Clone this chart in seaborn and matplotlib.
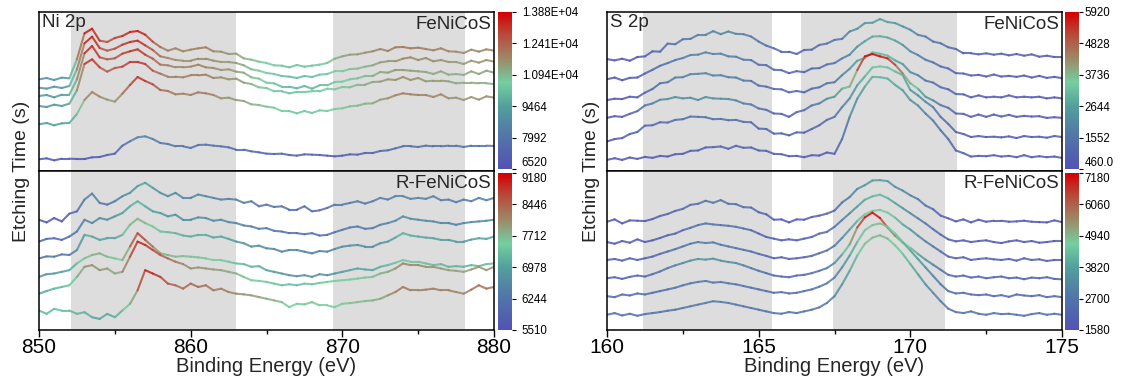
import numpy as np
import pandas as pd
import matplotlib
matplotlib.use("Agg")
import matplotlib.pyplot as plt
import seaborn as sns
from matplotlib.colors import LinearSegmentedColormap, Normalize
from matplotlib.cm import ScalarMappable
from matplotlib.ticker import MultipleLocator

# ---------------- data ----------------
ni_energy = np.arange(850.0, 880.001, 0.5)      # eV, 61 points
s_energy = np.arange(160.0, 175.001, 0.25)      # eV, 61 points

# Ni 2p, FeNiCoS (relative intensity of each trace above its own start, a.u.) top -> bottom
ni_fenicos_1 = [0, 4, -2, 5, 3, 60, 138, 152, 116, 112,
                124, 130, 142, 145, 134, 113, 97, 86, 93, 84,
                89, 93, 96, 84, 83, 76, 77, 63, 59, 53,
                49, 42, 41, 36, 43, 38, 41, 44, 49, 62,
                69, 74, 75, 80, 84, 91, 85, 96, 97, 93,
                95, 91, 87, 93, 84, 83, 79, 89, 83, 90,
                86]
ni_fenicos_2 = [0, -3, 3, -1, 5, 55, 133, 153, 119, 111,
                117, 129, 137, 141, 127, 113, 94, 89, 83, 81,
                81, 87, 87, 81, 77, 77, 74, 67, 55, 51,
                44, 41, 35, 33, 29, 35, 32, 39, 41, 49,
                49, 56, 57, 63, 67, 76, 79, 79, 87, 91,
                83, 89, 79, 83, 77, 77, 71, 81, 75, 83,
                78]
ni_fenicos_3 = [0, 3, -4, 4, 4, 50, 128, 150, 116, 110,
                113, 127, 134, 140, 124, 112, 94, 92, 86, 86,
                88, 94, 86, 84, 78, 80, 73, 70, 56, 52,
                40, 38, 28, 28, 23, 30, 22, 32, 32, 42,
                43, 50, 53, 60, 60, 72, 70, 78, 78, 76,
                74, 72, 66, 74, 64, 66, 63, 74, 66, 76,
                70]
ni_fenicos_4 = [0, -3, 4, 0, 7, 47, 126, 140, 116, 103,
                114, 118, 132, 132, 126, 106, 97, 88, 88, 86,
                92, 92, 94, 84, 86, 80, 82, 70, 66, 56,
                54, 44, 44, 38, 42, 42, 44, 44, 52, 50,
                57, 56, 64, 64, 72, 73, 80, 78, 87, 78,
                84, 74, 76, 76, 74, 68, 70, 70, 68, 68,
                66]
ni_fenicos_5 = [0, 4, -3, 3, 4, 31, 73, 97, 83, 74,
                68, 92, 118, 142, 130, 120, 103, 100, 90, 92,
                88, 96, 93, 88, 78, 80, 73, 70, 60, 58,
                53, 50, 40, 40, 33, 40, 34, 42, 40, 46,
                48, 54, 56, 62, 63, 74, 78, 87, 93, 90,
                88, 88, 82, 90, 78, 80, 73, 82, 74, 84,
                80]
ni_fenicos_6 = [0, 3, -3, 2, 2, 1, 1, 6, 7, 13,
                17, 41, 54, 66, 69, 61, 49, 46, 39, 39,
                34, 43, 44, 41, 39, 36, 29, 29, 24, 21,
                17, 16, 17, 13, 11, 15, 14, 13, 11, 9,
                11, 15, 14, 19, 19, 25, 27, 33, 39, 39,
                37, 41, 39, 39, 41, 41, 37, 41, 41, 41,
                40]
ni_fenicos_levels = [275, 250, 225, 195, 140, 35]
ni_fenicos_counts = [(9000, 13800), (9000, 13750), (9050, 13600),
                     (8950, 13400), (9250, 13300), (6550, 8700)]

# Ni 2p, R-FeNiCoS
ni_r_1 = [0, -8, 5, -5, 18, 25, 60, 78, 50, 45,
          55, 70, 80, 100, 110, 95, 80, 70, 80, 65,
          65, 75, 70, 65, 60, 62, 60, 50, 55, 40,
          45, 38, 40, 30, 30, 40, 25, 28, 35, 45,
          45, 50, 55, 48, 55, 65, 60, 70, 70, 62,
          65, 62, 70, 58, 60, 52, 60, 55, 65, 58,
          65]
ni_r_2 = [0, 8, 10, 5, 15, 30, 65, 55, 70, 65,
          75, 85, 105, 120, 105, 90, 85, 75, 80, 65,
          65, 72, 70, 62, 65, 58, 55, 48, 45, 38,
          40, 32, 30, 25, 25, 22, 25, 18, 20, 28,
          35, 42, 45, 38, 40, 50, 55, 62, 75, 68,
          65, 62, 60, 55, 55, 50, 55, 58, 60, 62,
          65]
ni_r_3 = [0, 6, 5, 12, 10, 25, 70, 65, 55, 60,
          60, 70, 100, 118, 105, 95, 80, 78, 75, 68,
          65, 70, 70, 62, 65, 58, 50, 45, 35, 38,
          30, 28, 20, 25, 25, 20, 15, 22, 20, 28,
          35, 38, 40, 35, 35, 45, 50, 62, 75, 68,
          65, 62, 60, 55, 55, 50, 50, 56, 60, 58,
          65]
ni_r_4 = [0, 8, 10, 15, 20, 40, 55, 65, 70, 60,
          55, 50, 90, 130, 110, 90, 70, 65, 60, 62,
          60, 58, 55, 50, 50, 45, 40, 38, 30, 32,
          20, 15, 10, 5, 2, 5, 0, 8, 5, 10,
          15, 20, 25, 22, 20, 30, 35, 42, 50, 45,
          45, 40, 35, 38, 30, 32, 30, 35, 32, 38,
          40]
ni_r_5 = [0, 8, 15, 20, 25, 50, 80, 85, 70, 75,
          60, 65, 110, 155, 145, 130, 115, 105, 95, 88,
          75, 78, 75, 72, 70, 65, 60, 50, 40, 38,
          35, 30, 25, 28, 25, 30, 28, 32, 35, 38,
          40, 42, 45, 48, 50, 60, 65, 75, 90, 85,
          85, 80, 80, 75, 70, 68, 65, 72, 80, 70,
          80]
ni_r_6 = [0, -10, 5, 0, 0, -10, -5, -20, -25, -10,
          -20, 0, 20, 60, 120, 110, 100, 80, 75, 65,
          80, 70, 75, 60, 65, 55, 50, 48, 45, 40,
          35, 30, 25, 10, 20, 18, 25, 15, 15, 10,
          20, 22, 25, 28, 30, 35, 45, 55, 70, 60,
          60, 62, 65, 60, 60, 55, 50, 62, 75, 65,
          70]
ni_r_levels = [328, 263, 213, 158, 108, 58]
ni_r_counts = [(5550, 7100), (5850, 7300), (6150, 7850),
               (6650, 8850), (7000, 9000), (6950, 9050)]

# S 2p, FeNiCoS
s_fenicos_1 = [0, -4, 1, -5, 6, 8, 23, 22, 46, 44,
               59, 60, 72, 72, 83, 74, 82, 75, 74, 67,
               52, 40, 32, 22, 22, 15, 27, 28, 42, 46,
               57, 60, 82, 90, 107, 108, 119, 110, 107, 97,
               87, 72, 67, 52, 47, 35, 30, 17, 17, 14,
               17, 13, 16, 11, 15, 10, 14, 7, 10, 6,
               6]
s_fenicos_2 = [0, 5, -3, 4, 5, 17, 28, 40, 48, 57,
               63, 72, 73, 80, 75, 76, 68, 67, 58, 57,
               43, 42, 28, 27, 18, 24, 21, 32, 33, 44,
               48, 62, 73, 97, 113, 127, 128, 124, 115, 102,
               83, 72, 58, 50, 38, 32, 18, 17, 11, 13,
               8, 14, 8, 10, 7, 11, 5, 10, 4, 7,
               3]
s_fenicos_3 = [0, 4, 3, 10, 8, 22, 33, 50, 53, 67,
               68, 77, 78, 80, 73, 74, 68, 67, 58, 57,
               43, 40, 33, 32, 23, 27, 23, 34, 38, 50,
               53, 74, 93, 117, 125, 142, 138, 132, 118, 107,
               83, 74, 58, 52, 38, 32, 18, 17, 8, 14,
               8, 10, 8, 14, 8, 10, 8, 10, 5, 8,
               5]
s_fenicos_4 = [0, 5, 3, 12, 20, 37, 43, 54, 56, 62,
               58, 60, 53, 62, 58, 57, 56, 52, 43, 40,
               28, 24, 13, 12, 3, 17, 23, 37, 43, 57,
               63, 87, 93, 142, 183, 190, 183, 177, 158, 132,
               103, 87, 63, 52, 38, 30, 13, 12, 3, 10,
               3, 10, 4, 9, 3, 6, 4, 5, 0, 2,
               0]
s_fenicos_5 = [0, 7, 10, 22, 28, 47, 48, 57, 56, 64,
               66, 74, 73, 72, 66, 67, 63, 64, 58, 57,
               38, 37, 23, 24, 18, 27, 26, 37, 48, 64,
               73, 102, 128, 167, 193, 220, 223, 220, 208, 197,
               153, 137, 118, 102, 73, 52, 28, 22, 13, 16,
               13, 14, 12, 15, 10, 16, 13, 14, 11, 16,
               13]
s_fenicos_6 = [0, 5, 0, 7, 3, 9, 6, 12, 10, 17,
               18, 27, 28, 37, 38, 40, 33, 42, 36, 37,
               28, 27, 18, 17, 11, 12, 8, 14, 13, 22,
               18, 62, 128, 182, 218, 247, 246, 242, 223, 207,
               178, 162, 138, 117, 88, 62, 28, 20, 10, 12,
               11, 14, 10, 12, 8, 14, 8, 11, 8, 10,
               6]
s_fenicos_levels = [333, 273, 211, 158, 88, 33]
s_fenicos_counts = [(550, 2700), (550, 2900), (550, 3200),
                    (600, 5900), (600, 3300), (600, 3000)]

# S 2p, R-FeNiCoS
s_r_1 = [0, 7, -5, 4, 3, 2, 8, 17, 23, 32,
         38, 50, 53, 62, 56, 64, 53, 52, 43, 42,
         28, 22, 6, 7, -2, 7, 6, 14, 18, 24,
         33, 57, 73, 97, 108, 122, 123, 120, 103, 92,
         78, 67, 48, 37, 18, 10, 1, 7, -2, 6,
         0, 3, 3, 0, 1, 3, 0, -1, -2, 4,
         -1]
s_r_2 = [0, -5, 3, -2, 8, 0, 5, 12, 20, 25,
         35, 42, 50, 55, 52, 50, 48, 45, 40, 35,
         25, 15, 10, 5, 8, 5, 10, 15, 25, 30,
         45, 65, 85, 105, 125, 135, 140, 130, 115, 100,
         85, 70, 55, 38, 22, 8, 2, 5, 0, 3,
         5, 0, -3, 2, 5, 0, 3, -2, 0, 3,
         3]
s_r_3 = [0, 3, -2, 5, 0, 5, 10, 18, 25, 32,
         40, 48, 53, 50, 52, 45, 40, 35, 30, 25,
         18, 12, 5, 8, 3, 5, 8, 12, 20, 28,
         42, 65, 90, 115, 135, 145, 148, 140, 125, 105,
         90, 72, 55, 40, 25, 10, 5, 8, 0, 3,
         5, 2, 0, 3, -2, 5, 0, 2, -3, 0,
         0]
s_r_4 = [0, 3, -2, 4, 8, 5, 12, 20, 30, 38,
         45, 52, 57, 55, 58, 52, 48, 45, 38, 30,
         22, 15, 8, 5, 3, 8, 10, 15, 22, 30,
         45, 70, 100, 150, 180, 194, 178, 150, 125, 105,
         90, 72, 55, 40, 25, 10, 5, 8, 2, 5,
         0, 3, 5, 0, 2, -3, 2, 0, 3, -2,
         -3]
s_r_5 = [0, -3, 5, 2, 8, 5, 10, 15, 20, 25,
         32, 38, 42, 45, 40, 42, 38, 35, 30, 25,
         20, 15, 10, 12, 8, 10, 15, 20, 28, 38,
         55, 85, 120, 160, 195, 210, 215, 205, 185, 160,
         135, 110, 85, 60, 35, 15, 8, 10, 5, 3,
         5, 0, 3, -2, 5, 2, 0, 3, -3, 0,
         -3]
s_r_6 = [0, 5, -2, 3, -3, 2, 5, 8, 12, 15,
         20, 25, 30, 35, 40, 38, 35, 30, 25, 20,
         15, 10, 5, 3, 8, 5, 10, 15, 22, 35,
         55, 90, 130, 175, 210, 228, 235, 225, 205, 180,
         150, 120, 90, 65, 40, 18, 8, 5, 10, 3,
         0, 5, 2, 3, 0, -3, 2, 5, 0, 3,
         0]
s_r_levels = [320, 260, 207, 153, 100, 45]
s_r_counts = [(1650, 3800), (1700, 4300), (1900, 4800),
              (2000, 7150), (2300, 4900), (2500, 5000)]

# colour-bar scales
ni_fenicos_cbar = [6520, 7992, 9464, 10940, 12410, 13880]
ni_fenicos_cbar_labels = ["6520", "7992", "9464", "1.094E+04", "1.241E+04", "1.388E+04"]
ni_r_cbar = [5510, 6244, 6978, 7712, 8446, 9180]
ni_r_cbar_labels = ["5510", "6244", "6978", "7712", "8446", "9180"]
s_fenicos_cbar = [460, 1552, 2644, 3736, 4828, 5920]
s_fenicos_cbar_labels = ["460.0", "1552", "2644", "3736", "4828", "5920"]
s_r_cbar = [1580, 2700, 3820, 4940, 6060, 7180]
s_r_cbar_labels = ["1580", "2700", "3820", "4940", "6060", "7180"]

# ---------------- style ----------------
sns.set_theme(style="ticks")
plt.rcParams["font.family"] = ["Liberation Sans", "DejaVu Sans"]
plt.rcParams["axes.unicode_minus"] = False

cmap = LinearSegmentedColormap.from_list(
    "xps", [(0.0, "#5252b4"), (0.22, "#5277a8"), (0.4, "#52a09c"),
            (0.55, "#74cfa0"), (0.7, "#9c8a68"), (0.85, "#b84c3e"),
            (1.0, "#d40000")])

W, H = 1123, 387
fig = plt.figure(figsize=(W / 100, H / 100), dpi=100)


def fr(x0, y0, x1, y1):
    return [x0 / W, 1 - y1 / H, (x1 - x0) / W, (y1 - y0) / H]


def draw(ax, cax, energy, traces, levels, counts, cticks, clabels, height,
         spans, xlim, major, minor, tl, tr, bottom, cpad):
    vmin, vmax = cticks[0], cticks[-1]
    for a, b in spans:
        ax.axvspan(a, b, color="#dddddd", lw=0, zorder=0)
    for tr_vals, lev, (cmin, cmax) in zip(traces, levels, counts):
        rel = np.asarray(tr_vals, float)
        raw = cmin + (rel - rel.min()) / (rel.max() - rel.min()) * (cmax - cmin)
        y = rel + lev
        n = len(rel)
        idx = np.column_stack([np.arange(n - 1), np.arange(1, n)]).ravel()
        cval = np.repeat((raw[:-1] + raw[1:]) / 2, 2)
        df = pd.DataFrame({"x": energy[idx], "y": y[idx], "c": cval,
                           "seg": np.repeat(np.arange(n - 1), 2)})
        sns.lineplot(data=df, x="x", y="y", hue="c", units="seg",
                     estimator=None, palette=cmap, hue_norm=(vmin, vmax),
                     legend=False, ax=ax, lw=1.5, alpha=0.85, sort=False)
    ax.set_xlim(*xlim)
    ax.set_ylim(0, height)
    ax.set_yticks([])
    ax.set_xlabel("")
    ax.set_ylabel("")
    ax.xaxis.set_major_locator(MultipleLocator(major))
    ax.xaxis.set_minor_locator(MultipleLocator(minor))
    for sp in ax.spines.values():
        sp.set_color("black")
        sp.set_linewidth(1.1)
    if bottom:
        ax.tick_params(axis="x", which="major", direction="out", length=5,
                       width=1, labelsize=15, pad=1, colors="black")
        ax.tick_params(axis="x", which="minor", direction="out", length=3,
                       width=1, colors="black")
    else:
        ax.tick_params(axis="x", which="both", bottom=False, labelbottom=False)
    if tl:
        ax.text(0.006, 0.985, tl, transform=ax.transAxes, ha="left", va="top",
                fontsize=13.5)
    ax.text(0.994, 0.975, tr, transform=ax.transAxes, ha="right", va="top",
            fontsize=13.5)
    sm = ScalarMappable(norm=Normalize(vmin, vmax), cmap=cmap)
    cb = fig.colorbar(sm, cax=cax)
    cb.outline.set_visible(False)
    cb.set_ticks(cticks)
    cb.set_ticklabels(clabels)
    cax.tick_params(length=3, width=0.8, labelsize=8.3, pad=cpad,
                    colors="black")
    labs = cax.get_yticklabels()
    if bottom:
        labs[-1].set_va("top")
    else:
        labs[0].set_va("bottom")


ax1 = fig.add_axes(fr(39, 12, 494, 171))
ax2 = fig.add_axes(fr(39, 171, 494, 330))
ax3 = fig.add_axes(fr(607, 12, 1062, 171))
ax4 = fig.add_axes(fr(607, 171, 1062, 330))
c1 = fig.add_axes(fr(498, 12, 512, 169))
c2 = fig.add_axes(fr(498, 173, 512, 330))
c3 = fig.add_axes(fr(1065, 12, 1079, 169))
c4 = fig.add_axes(fr(1065, 173, 1079, 330))

draw(ax1, c1, ni_energy,
     [ni_fenicos_1, ni_fenicos_2, ni_fenicos_3, ni_fenicos_4, ni_fenicos_5, ni_fenicos_6],
     ni_fenicos_levels, ni_fenicos_counts, ni_fenicos_cbar, ni_fenicos_cbar_labels,
     477, [(852.1, 863.0), (869.4, 878.1)], (850, 880), 10, 5, "Ni 2p", "FeNiCoS",
     False, 4)
draw(ax2, c2, ni_energy,
     [ni_r_1, ni_r_2, ni_r_3, ni_r_4, ni_r_5, ni_r_6],
     ni_r_levels, ni_r_counts, ni_r_cbar, ni_r_cbar_labels,
     473, [(852.1, 863.0), (869.4, 878.1)], (850, 880), 10, 5, None, "R-FeNiCoS",
     True, 4)
draw(ax3, c3, s_energy,
     [s_fenicos_1, s_fenicos_2, s_fenicos_3, s_fenicos_4, s_fenicos_5, s_fenicos_6],
     s_fenicos_levels, s_fenicos_counts, s_fenicos_cbar, s_fenicos_cbar_labels,
     473, [(161.2, 165.45), (166.4, 171.55)], (160, 175), 5, 2.5, "S 2p", "FeNiCoS",
     False, 1)
draw(ax4, c4, s_energy,
     [s_r_1, s_r_2, s_r_3, s_r_4, s_r_5, s_r_6],
     s_r_levels, s_r_counts, s_r_cbar, s_r_cbar_labels,
     470, [(161.2, 165.45), (167.45, 171.15)], (160, 175), 5, 2.5, None, "R-FeNiCoS",
     True, 1)

fig.text(22 / W, 1 - 171 / H, "Etching Time (s)", rotation=90, ha="center",
         va="center", fontsize=14)
fig.text(592 / W, 1 - 171 / H, "Etching Time (s)", rotation=90, ha="center",
         va="center", fontsize=14)
fig.text(266.5 / W, 1 - 367 / H, "Binding Energy (eV)", ha="center",
         va="center", fontsize=14.5)
fig.text(834.5 / W, 1 - 367 / H, "Binding Energy (eV)", ha="center",
         va="center", fontsize=14.5)

fig.savefig("out.png", dpi=100)
